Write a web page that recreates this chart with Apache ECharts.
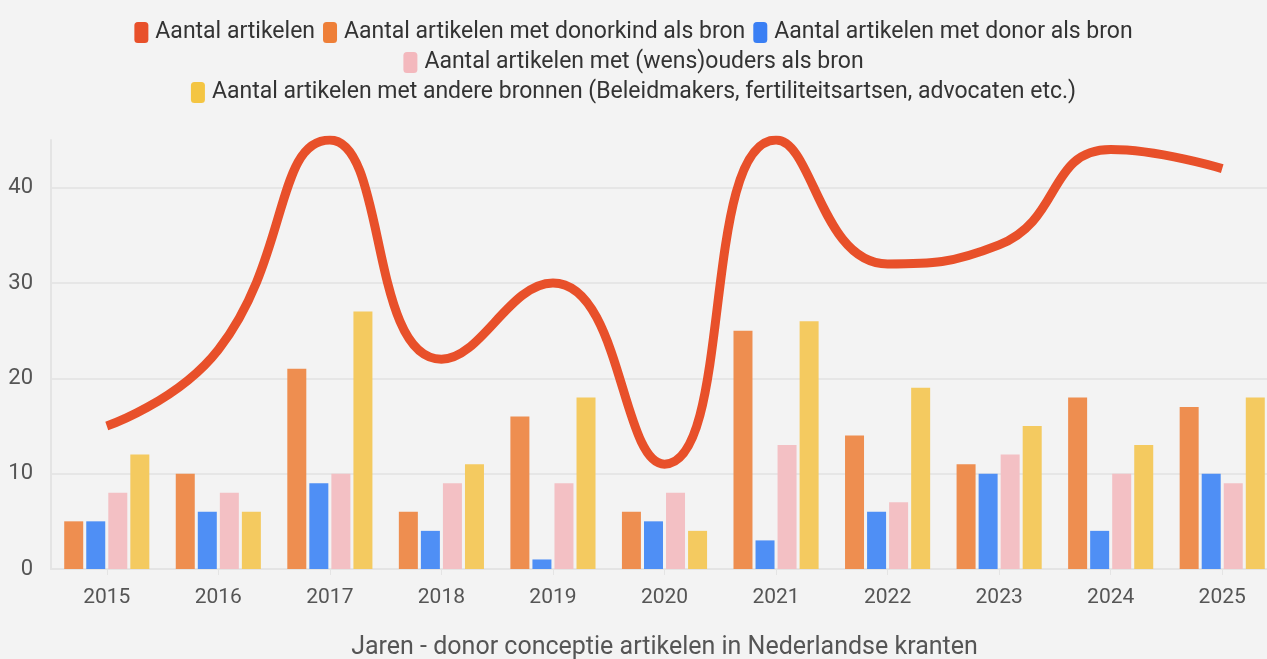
<!DOCTYPE html>
<html>
<head>
<meta charset="utf-8">
<script src="https://cdn.jsdelivr.net/npm/echarts@6/dist/echarts.min.js"></script>
<style>
html,body{margin:0;padding:0;background:#f3f3f3;}
#chart{width:1267px;height:659px;}
</style>
</head>
<body>
<div id="chart"></div>
<script>
const years = ['2015','2016','2017','2018','2019','2020','2021','2022','2023','2024','2025'];
const totaal = [15, 23, 45, 22, 30, 11, 45, 32, 34, 44, 42];
const donorkind = [5, 10, 21, 6, 16, 6, 25, 14, 11, 18, 17];
const donor = [5, 6, 9, 4, 1, 5, 3, 6, 10, 4, 10];
const wensouders = [8, 8, 10, 9, 9, 8, 13, 7, 12, 10, 9];
const andere = [12, 6, 27, 11, 18, 4, 26, 19, 15, 13, 18];
const names = [
  'Aantal artikelen',
  'Aantal artikelen met donorkind als bron',
  'Aantal artikelen met donor als bron',
  'Aantal artikelen met (wens)ouders als bron',
  'Aantal artikelen met andere bronnen (Beleidmakers, fertiliteitsartsen, advocaten etc.)'
];
const colors = ['#e8502a', '#ee8e50', '#4f8ff5', '#f3c0c4', '#f4ca60'];
const legendColors = ['#e8502a', '#ee7f38', '#3a7ff4', '#f3b8bd', '#f4c542'];
const font = 'Roboto, "Noto Sans", sans-serif';

const chart = echarts.init(document.getElementById('chart'));
const legendBase = {
  left: 'center', icon: 'roundRect', itemWidth: 14, itemHeight: 21, itemGap: 8,
  textStyle: {fontSize: 23, color: '#333', fontFamily: font, padding: [0,0,0,2]},
  selectedMode: false
};
const barBase = {type: 'bar', barWidth: 19, barGap: '16%', barCategoryGap: '24%'};
chart.setOption({
  backgroundColor: '#f3f3f3',
  animation: false,
  legend: [
    Object.assign({}, legendBase, {top: 16, data: names.slice(0,3).map((n,i)=>({name:n, itemStyle:{color:legendColors[i]}}))}),
    Object.assign({}, legendBase, {top: 46, data: [{name:names[3], itemStyle:{color:legendColors[3]}}]}),
    Object.assign({}, legendBase, {top: 76, data: [{name:names[4], itemStyle:{color:legendColors[4]}}]})
  ],
  grid: {left: 51, right: -11, top: 140, bottom: 90, containLabel: false, outerBoundsMode: 'none'},
  xAxis: {
    type: 'category', data: years,
    axisLine: {lineStyle: {color: '#e4e4e4', width: 2}},
    axisTick: {show: true, alignWithLabel: true, length: 6, lineStyle: {color: '#e4e4e4', width: 1}},
    axisLabel: {fontSize: 21, color: '#555', fontFamily: font, margin: 18},
    name: 'Jaren - donor conceptie artikelen in Nederlandse kranten',
    nameLocation: 'middle', nameGap: 66,
    nameTextStyle: {fontSize: 25, color: '#555', fontFamily: font}
  },
  yAxis: {
    type: 'value', min: 0, max: 45, interval: 10,
    axisLine: {show: true, lineStyle: {color: '#e4e4e4', width: 2}},
    axisTick: {show: false},
    splitLine: {show: true, showMaxLine: false, lineStyle: {color: '#e6e6e6', width: 2}},
    axisLabel: {fontSize: 22, color: '#555', fontFamily: font, margin: 18, showMaxLabel: false,
      formatter: v => (v % 10 === 0 ? String(v) : '')}
  },
  series: [
    {name: names[0], type: 'line', data: totaal, smooth: 0.5, showSymbol: false, symbol: 'none',
     lineStyle: {color: colors[0], width: 9}, itemStyle: {color: colors[0]}, z: 5},
    Object.assign({}, barBase, {name: names[1], data: donorkind, itemStyle: {color: colors[1]}}),
    Object.assign({}, barBase, {name: names[2], data: donor, itemStyle: {color: colors[2]}}),
    Object.assign({}, barBase, {name: names[3], data: wensouders, itemStyle: {color: colors[3]}}),
    Object.assign({}, barBase, {name: names[4], data: andere, itemStyle: {color: colors[4]}})
  ]
});
</script>
</body>
</html>
